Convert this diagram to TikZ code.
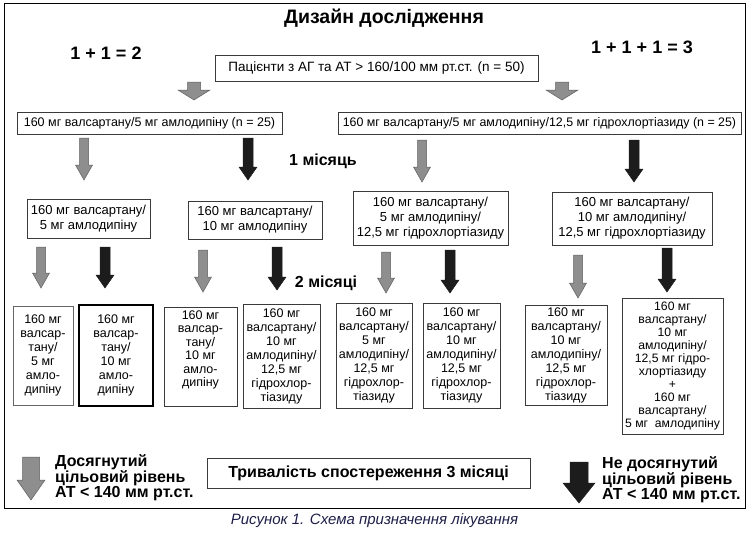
\documentclass[tikz,border=0pt]{standalone}
\usepackage{fontspec}
\setmainfont{Liberation Sans}
\newcommand{\fs}[2]{\fontsize{#1}{#2}\selectfont}
% fill style, cx, ytop, ybot, shaft half width, head half width, head length
\newcommand{\blockarrow}[7]{%
  \filldraw[#1] (#2-#5,#3) -- (#2+#5,#3) -- (#2+#5,#4-#7) -- (#2+#6,#4-#7)
    -- (#2,#4) -- (#2-#6,#4-#7) -- (#2-#5,#4-#7) -- cycle;}
\definecolor{boxcol}{HTML}{3A3A3A}
\definecolor{grayfill}{HTML}{8E8E8E}
\definecolor{grayline}{HTML}{5E5E5E}
\definecolor{blackfill}{HTML}{1C1C1C}
\definecolor{capcol}{HTML}{1E1E48}
\begin{document}
\begin{tikzpicture}[x=1pt,y=-1pt,
  box/.style={draw=boxcol, line width=0.8pt, fill=white, inner sep=0pt,
    align=center, font=\fs{12.5}{14}},
  midbox/.style={box, font=\fs{13}{15}},
  garrow/.style={fill=grayfill, draw=grayline, line width=0.5pt},
  barrow/.style={fill=blackfill, draw=blackfill, line width=0.5pt},
  boldlabel/.style={font=\bfseries\fs{16}{16}, inner sep=0pt},
]
\useasboundingbox (0,0) rectangle (750,536);
% frame
\draw[line width=1pt, draw=black] (4,3) rectangle (745,508);
% titles
\node[font=\bfseries\fs{19.5}{20}, inner sep=0pt] (title) at (384,18) {Дизайн дослідження};
\node[boldlabel, font=\bfseries\fs{18}{18}] (eq2) at (106,53) {1 + 1 = 2};
\node[boldlabel, font=\bfseries\fs{18}{18}] (eq3) at (642,47) {1 + 1 + 1 = 3};
% top box
\node[box, minimum width=323, minimum height=26, font=\fs{13.5}{14}] (pat) at (376.5,68)
  {Пацієнти з АГ та АТ > 160/100 мм рт.ст. (n = 50)};
\blockarrow{garrow}{194}{82}{100}{6.5}{16}{10}
\blockarrow{garrow}{562}{82}{100}{6.5}{16}{10}
% row 2
\node[box, minimum width=265, minimum height=22, font=\fs{12.5}{13}] (l2) at (149.5,123)
  {160 мг валсартану/5 мг амлодипіну (n = 25)};
\node[box, minimum width=403, minimum height=22, font=\fs{12.4}{13}] (r2) at (539.5,123)
  {160 мг валсартану/5 мг амлодипіну/12,5 мг гідрохлортіазиду (n = 25)};
% arrows row 2 -> 3
\blockarrow{garrow}{84}{138}{180}{4.5}{8.5}{15}
\blockarrow{barrow}{248}{138}{180}{5}{9}{13}
\blockarrow{garrow}{422}{140}{182}{4.5}{8.5}{15}
\blockarrow{barrow}{634}{140}{182}{5}{9}{13}
\node[boldlabel] (m1) at (323,161) {1 місяць};
% row 3
\node[midbox, minimum width=123, minimum height=39] (a3) at (88.5,218.5)
  {160 мг валсартану/\\5 мг амлодипіну};
\node[midbox, minimum width=134, minimum height=38] (b3) at (255,220)
  {160 мг валсартану/\\10 мг амлодипіну};
\node[midbox, minimum width=155, minimum height=54] (c3) at (430.5,218)
  {160 мг валсартану/\\5 мг амлодипіну/\\12,5 мг гідрохлортіазиду};
\node[midbox, minimum width=160, minimum height=53] (d3) at (632,218.5)
  {160 мг валсартану/\\10 мг амлодипіну/\\12,5 мг гідрохлортіазиду};
% arrows row 3 -> 4
\blockarrow{garrow}{41}{247}{288}{4.5}{8.5}{15}
\blockarrow{barrow}{105}{247}{288}{5}{9}{13}
\blockarrow{garrow}{203}{250}{292}{4.5}{8.5}{15}
\blockarrow{barrow}{277}{247}{290}{5}{9}{13}
\blockarrow{garrow}{386}{252}{293}{4.5}{8.5}{15}
\blockarrow{barrow}{450}{250}{293}{5}{9}{13}
\blockarrow{garrow}{578}{255}{298}{4.5}{8.5}{15}
\blockarrow{barrow}{667}{248}{292}{5}{9}{13}
\node[boldlabel] (m2) at (326,283) {2 місяці};
% row 4
\node[box, draw=gray!80!black, minimum width=60, minimum height=99] (p1) at (43,355.5)
  {160 мг\\валсар-\\тану/\\5 мг\\амло-\\дипіну};
\node[box, draw=black, line width=1.4pt, minimum width=74, minimum height=101] (p2) at (116,355.5)
  {160 мг\\валсар-\\тану/\\10 мг\\амло-\\дипіну};
\node[box, minimum width=73, minimum height=99] (p3) at (200.5,356.5) {};
\node[align=center, font=\fs{12.5}{13.5}, inner sep=0pt] (p3t) at (200.5,350)
  {160 мг\\валсар-\\тану/\\10 мг\\амло-\\дипіну};
\node[box, minimum width=77, minimum height=104] (p4) at (281.5,356)
  {160 мг\\валсартану/\\10 мг\\амлодипіну/\\12,5 мг\\гідрохлор-\\тіазиду};
\node[box, minimum width=76, minimum height=105] (p5) at (374,355.5)
  {160 мг\\валсартану/\\5 мг\\амлодипіну/\\12,5 мг\\гідрохлор-\\тіазиду};
\node[box, minimum width=77, minimum height=105] (p6) at (461.5,355.5)
  {160 мг\\валсартану/\\10 мг\\амлодипіну/\\12,5 мг\\гідрохлор-\\тіазиду};
\node[box, minimum width=82, minimum height=100] (p7) at (566,355)
  {160 мг\\валсартану/\\10 мг\\амлодипіну/\\12,5 мг\\гідрохлор-\\тіазиду};
\node[box, minimum width=101, minimum height=136, font=\fs{12.2}{13}] (p8) at (672.5,366)
  {160 мг\\валсартану/\\10 мг\\амлодипіну/\\12,5 мг гідро-\\хлортіазиду\\+\\160 мг\\валсартану/\\5 мг~~амлодипіну};
% bottom
\blockarrow{garrow}{31}{457}{500}{8.5}{14}{20}
\node[font=\bfseries\fs{16}{15}, align=left, anchor=west, inner sep=0pt] (ok) at (55,478)
  {Досягнутий\\цільовий рівень\\АТ < 140 мм рт.ст.};
\node[box, minimum width=323, minimum height=30, font=\bfseries\fs{16}{16}] (dur) at (368.5,473)
  {Тривалість спостереження 3 місяці};
\blockarrow{barrow}{579}{462}{503}{9}{16}{20}
\node[font=\bfseries\fs{16}{15}, align=left, anchor=west, inner sep=0pt] (nok) at (602,480)
  {Не досягнутий\\цільовий рівень\\АТ < 140 мм рт.ст.};
% caption
\node[font=\itshape\fs{15}{15}, text=capcol, inner sep=0pt] (cap) at (374.5,521)
  {Рисунок 1. Схема призначення лікування};
\end{tikzpicture}
\end{document}
